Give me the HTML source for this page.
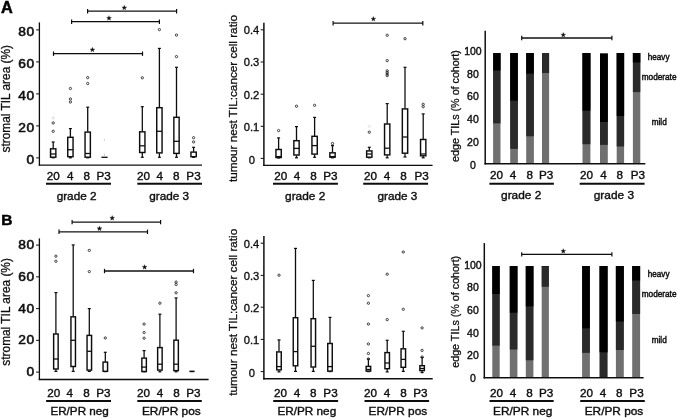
<!DOCTYPE html><html><head><meta charset="utf-8"><style>html,body{margin:0;padding:0;background:#fff}svg{display:block}</style></head><body>
<svg width="677" height="419" viewBox="0 0 677 419">
<rect width="677" height="419" fill="#fff"/>
<defs><filter id="bl" x="0" y="0" width="100%" height="100%" filterUnits="userSpaceOnUse"><feGaussianBlur stdDeviation="0.35"/></filter></defs>
<g font-family="Liberation Sans, sans-serif" filter="url(#bl)">
<text x="1.0" y="12.9" font-size="16.3" text-anchor="start" font-weight="bold" fill="#000" stroke="#000" stroke-width="0.5" >A</text>
<text x="1.2" y="224.6" font-size="15.5" text-anchor="start" font-weight="bold" fill="#000" stroke="#000" stroke-width="0.5" >B</text>
<line x1="39.4" y1="22.4" x2="39.4" y2="165.7" stroke="#111" stroke-width="1.3"/>
<line x1="38.8" y1="165.05" x2="202" y2="165.05" stroke="#111" stroke-width="1.35"/>
<text transform="translate(34.8,36.0) scale(1.13,1)" font-size="12.2" text-anchor="end" fill="#111" letter-spacing="0.55" stroke="#111" stroke-width="0.55">80</text>
<line x1="36.1" y1="29.900000000000002" x2="39.4" y2="29.900000000000002" stroke="#111" stroke-width="1.0"/>
<text transform="translate(34.8,68.0) scale(1.13,1)" font-size="12.2" text-anchor="end" fill="#111" letter-spacing="0.55" stroke="#111" stroke-width="0.55">60</text>
<line x1="36.1" y1="61.9" x2="39.4" y2="61.9" stroke="#111" stroke-width="1.0"/>
<text transform="translate(34.8,100.0) scale(1.13,1)" font-size="12.2" text-anchor="end" fill="#111" letter-spacing="0.55" stroke="#111" stroke-width="0.55">40</text>
<line x1="36.1" y1="93.89999999999999" x2="39.4" y2="93.89999999999999" stroke="#111" stroke-width="1.0"/>
<text transform="translate(34.8,132.0) scale(1.13,1)" font-size="12.2" text-anchor="end" fill="#111" letter-spacing="0.55" stroke="#111" stroke-width="0.55">20</text>
<line x1="36.1" y1="125.89999999999999" x2="39.4" y2="125.89999999999999" stroke="#111" stroke-width="1.0"/>
<text transform="translate(34.8,164.0) scale(1.13,1)" font-size="12.2" text-anchor="end" fill="#111" letter-spacing="0.55" stroke="#111" stroke-width="0.55">0</text>
<line x1="36.1" y1="157.9" x2="39.4" y2="157.9" stroke="#111" stroke-width="1.0"/>
<text transform="translate(9.9,98.75) rotate(-90)" font-size="12" text-anchor="middle" fill="#111" stroke="#111" stroke-width="0.3" textLength="107.5" lengthAdjust="spacingAndGlyphs">stromal TIL area (%)</text>
<line x1="53.2" y1="142.0" x2="53.2" y2="148.5" stroke="#111" stroke-width="1.3"/>
<line x1="53.2" y1="157.5" x2="53.2" y2="157.8" stroke="#111" stroke-width="1.3"/>
<line x1="51.7" y1="142.0" x2="54.7" y2="142.0" stroke="#111" stroke-width="1.2"/>
<line x1="51.7" y1="157.8" x2="54.7" y2="157.8" stroke="#111" stroke-width="1.2"/>
<rect x="50.55" y="148.80" width="5.30" height="8.40" fill="#fff" stroke="#111" stroke-width="1.45"/>
<line x1="50.550000000000004" y1="154" x2="55.85" y2="154" stroke="#111" stroke-width="1.3"/>
<circle cx="53.2" cy="131.3" r="1.15" fill="none" stroke="#222" stroke-width="0.85" opacity="1"/>
<circle cx="53.2" cy="123" r="1.15" fill="none" stroke="#222" stroke-width="0.85" opacity="1"/>
<circle cx="53.2" cy="118" r="1.15" fill="none" stroke="#222" stroke-width="0.85" opacity="0.15"/>
<line x1="70.4" y1="128.6" x2="70.4" y2="137" stroke="#111" stroke-width="1.3"/>
<line x1="70.4" y1="157" x2="70.4" y2="157.8" stroke="#111" stroke-width="1.3"/>
<line x1="68.9" y1="128.6" x2="71.9" y2="128.6" stroke="#111" stroke-width="1.2"/>
<line x1="68.9" y1="157.8" x2="71.9" y2="157.8" stroke="#111" stroke-width="1.2"/>
<rect x="67.75" y="137.30" width="5.30" height="19.40" fill="#fff" stroke="#111" stroke-width="1.45"/>
<line x1="67.75" y1="149.7" x2="73.05000000000001" y2="149.7" stroke="#111" stroke-width="1.3"/>
<circle cx="70.4" cy="102" r="1.15" fill="none" stroke="#222" stroke-width="0.85" opacity="1"/>
<circle cx="70.4" cy="99" r="1.15" fill="none" stroke="#222" stroke-width="0.85" opacity="1"/>
<circle cx="70.4" cy="88.5" r="1.15" fill="none" stroke="#222" stroke-width="0.85" opacity="1"/>
<line x1="87.7" y1="107.2" x2="87.7" y2="131.8" stroke="#111" stroke-width="1.3"/>
<line x1="87.7" y1="157.5" x2="87.7" y2="157.8" stroke="#111" stroke-width="1.3"/>
<line x1="86.2" y1="107.2" x2="89.2" y2="107.2" stroke="#111" stroke-width="1.2"/>
<line x1="86.2" y1="157.8" x2="89.2" y2="157.8" stroke="#111" stroke-width="1.2"/>
<rect x="85.05" y="132.10" width="5.30" height="25.10" fill="#fff" stroke="#111" stroke-width="1.45"/>
<line x1="85.05" y1="153.5" x2="90.35000000000001" y2="153.5" stroke="#111" stroke-width="1.3"/>
<circle cx="87.7" cy="83.5" r="1.15" fill="none" stroke="#222" stroke-width="0.85" opacity="1"/>
<circle cx="87.7" cy="77.6" r="1.15" fill="none" stroke="#222" stroke-width="0.85" opacity="1"/>
<line x1="101.4" y1="157.3" x2="107.6" y2="157.3" stroke="#111" stroke-width="1.3"/>
<line x1="104.4" y1="153.5" x2="104.4" y2="157" stroke="#bbb" stroke-width="0.8"/>
<line x1="104.4" y1="138.5" x2="104.4" y2="141" stroke="#ccc" stroke-width="0.8"/>
<line x1="142.3" y1="106.7" x2="142.3" y2="131.5" stroke="#111" stroke-width="1.3"/>
<line x1="142.3" y1="152.8" x2="142.3" y2="157.3" stroke="#111" stroke-width="1.3"/>
<line x1="140.8" y1="106.7" x2="143.8" y2="106.7" stroke="#111" stroke-width="1.2"/>
<line x1="140.8" y1="157.3" x2="143.8" y2="157.3" stroke="#111" stroke-width="1.2"/>
<rect x="139.65" y="131.80" width="5.30" height="20.70" fill="#fff" stroke="#111" stroke-width="1.45"/>
<line x1="139.65" y1="145.8" x2="144.95000000000002" y2="145.8" stroke="#111" stroke-width="1.3"/>
<circle cx="142.3" cy="77.8" r="1.15" fill="none" stroke="#222" stroke-width="0.85" opacity="1"/>
<line x1="159.4" y1="48.4" x2="159.4" y2="107.4" stroke="#111" stroke-width="1.3"/>
<line x1="159.4" y1="153.2" x2="159.4" y2="157.3" stroke="#111" stroke-width="1.3"/>
<line x1="157.9" y1="48.4" x2="160.9" y2="48.4" stroke="#111" stroke-width="1.2"/>
<line x1="157.9" y1="157.3" x2="160.9" y2="157.3" stroke="#111" stroke-width="1.2"/>
<rect x="156.75" y="107.70" width="5.30" height="45.20" fill="#fff" stroke="#111" stroke-width="1.45"/>
<line x1="156.75" y1="131.3" x2="162.05" y2="131.3" stroke="#111" stroke-width="1.3"/>
<circle cx="159.4" cy="29.6" r="1.15" fill="none" stroke="#222" stroke-width="0.85" opacity="1"/>
<line x1="176.5" y1="67.3" x2="176.5" y2="117" stroke="#111" stroke-width="1.3"/>
<line x1="176.5" y1="153.7" x2="176.5" y2="157.3" stroke="#111" stroke-width="1.3"/>
<line x1="175.0" y1="67.3" x2="178.0" y2="67.3" stroke="#111" stroke-width="1.2"/>
<line x1="175.0" y1="157.3" x2="178.0" y2="157.3" stroke="#111" stroke-width="1.2"/>
<rect x="173.85" y="117.30" width="5.30" height="36.10" fill="#fff" stroke="#111" stroke-width="1.45"/>
<line x1="173.85" y1="141.3" x2="179.15" y2="141.3" stroke="#111" stroke-width="1.3"/>
<circle cx="176.5" cy="35.1" r="1.15" fill="none" stroke="#222" stroke-width="0.85" opacity="1"/>
<circle cx="176.5" cy="56.6" r="1.15" fill="none" stroke="#222" stroke-width="0.85" opacity="1"/>
<line x1="193.6" y1="147.3" x2="193.6" y2="151.8" stroke="#111" stroke-width="1.3"/>
<line x1="193.6" y1="157" x2="193.6" y2="157.3" stroke="#111" stroke-width="1.3"/>
<line x1="192.1" y1="147.3" x2="195.1" y2="147.3" stroke="#111" stroke-width="1.2"/>
<line x1="192.1" y1="157.3" x2="195.1" y2="157.3" stroke="#111" stroke-width="1.2"/>
<rect x="190.95" y="152.10" width="5.30" height="4.60" fill="#fff" stroke="#111" stroke-width="1.45"/>
<circle cx="193.6" cy="137.7" r="1.15" fill="none" stroke="#222" stroke-width="0.85" opacity="1"/>
<circle cx="193.6" cy="141.9" r="1.15" fill="none" stroke="#222" stroke-width="0.85" opacity="1"/>
<line x1="87.6" y1="11.2" x2="176.6" y2="11.2" stroke="#111" stroke-width="1.3"/>
<line x1="87.6" y1="9.0" x2="87.6" y2="13.399999999999999" stroke="#111" stroke-width="1.2"/>
<line x1="176.6" y1="9.0" x2="176.6" y2="13.399999999999999" stroke="#111" stroke-width="1.2"/>
<polygon points="124.30,5.25 124.92,6.95 126.73,7.01 125.30,8.12 125.80,9.86 124.30,8.85 122.80,9.86 123.30,8.12 121.87,7.01 123.68,6.95" fill="#111" stroke="#111" stroke-width="0.3"/>
<line x1="71.6" y1="21.7" x2="159.4" y2="21.7" stroke="#111" stroke-width="1.3"/>
<line x1="71.6" y1="19.5" x2="71.6" y2="23.9" stroke="#111" stroke-width="1.2"/>
<line x1="159.4" y1="19.5" x2="159.4" y2="23.9" stroke="#111" stroke-width="1.2"/>
<polygon points="109.00,15.65 109.62,17.35 111.43,17.41 110.00,18.52 110.50,20.26 109.00,19.25 107.50,20.26 108.00,18.52 106.57,17.41 108.38,17.35" fill="#111" stroke="#111" stroke-width="0.3"/>
<line x1="53.5" y1="53.7" x2="142.5" y2="53.7" stroke="#111" stroke-width="1.3"/>
<line x1="53.5" y1="51.5" x2="53.5" y2="55.900000000000006" stroke="#111" stroke-width="1.2"/>
<line x1="142.5" y1="51.5" x2="142.5" y2="55.900000000000006" stroke="#111" stroke-width="1.2"/>
<polygon points="92.40,47.25 93.02,48.95 94.83,49.01 93.40,50.12 93.90,51.86 92.40,50.85 90.90,51.86 91.40,50.12 89.97,49.01 91.78,48.95" fill="#111" stroke="#111" stroke-width="0.3"/>
<text x="53.3" y="179.8" font-size="11.7" text-anchor="middle" font-weight="normal" fill="#111" stroke="#111" stroke-width="0.4" >20</text>
<text x="70.2" y="179.8" font-size="11.7" text-anchor="middle" font-weight="normal" fill="#111" stroke="#111" stroke-width="0.4" >4</text>
<text x="86.7" y="179.8" font-size="11.7" text-anchor="middle" font-weight="normal" fill="#111" stroke="#111" stroke-width="0.4" >8</text>
<text x="103.60000000000001" y="179.8" font-size="11.7" text-anchor="middle" font-weight="normal" fill="#111" stroke="#111" stroke-width="0.4" >P3</text>
<line x1="46" y1="183.8" x2="111" y2="183.8" stroke="#111" stroke-width="2.0"/>
<text x="76.6" y="199.5" font-size="11.5" text-anchor="middle" font-weight="normal" fill="#111" stroke="#111" stroke-width="0.4" textLength="39.8" lengthAdjust="spacingAndGlyphs" >grade 2</text>
<text x="143.4" y="179.8" font-size="11.7" text-anchor="middle" font-weight="normal" fill="#111" stroke="#111" stroke-width="0.4" >20</text>
<text x="159.70000000000002" y="179.8" font-size="11.7" text-anchor="middle" font-weight="normal" fill="#111" stroke="#111" stroke-width="0.4" >4</text>
<text x="176.20000000000002" y="179.8" font-size="11.7" text-anchor="middle" font-weight="normal" fill="#111" stroke="#111" stroke-width="0.4" >8</text>
<text x="193.5" y="179.8" font-size="11.7" text-anchor="middle" font-weight="normal" fill="#111" stroke="#111" stroke-width="0.4" >P3</text>
<line x1="137.3" y1="183.8" x2="202" y2="183.8" stroke="#111" stroke-width="2.0"/>
<text x="169.2" y="199.5" font-size="11.5" text-anchor="middle" font-weight="normal" fill="#111" stroke="#111" stroke-width="0.4" textLength="39.8" lengthAdjust="spacingAndGlyphs" >grade 3</text>
<line x1="263.9" y1="22.7" x2="263.9" y2="166.0" stroke="#111" stroke-width="1.5"/>
<line x1="263.2" y1="165.35" x2="432.6" y2="165.35" stroke="#111" stroke-width="1.3"/>
<text x="259.29999999999995" y="34.2" font-size="11.2" text-anchor="end" font-weight="normal" fill="#111" stroke="#111" stroke-width="0.35" >0.4</text>
<line x1="260.7" y1="29.8" x2="263.9" y2="29.8" stroke="#111" stroke-width="1.0"/>
<text x="259.29999999999995" y="66.4" font-size="11.2" text-anchor="end" font-weight="normal" fill="#111" stroke="#111" stroke-width="0.35" >0.3</text>
<line x1="260.7" y1="62" x2="263.9" y2="62" stroke="#111" stroke-width="1.0"/>
<text x="259.29999999999995" y="98.60000000000001" font-size="11.2" text-anchor="end" font-weight="normal" fill="#111" stroke="#111" stroke-width="0.35" >0.2</text>
<line x1="260.7" y1="94.2" x2="263.9" y2="94.2" stroke="#111" stroke-width="1.0"/>
<text x="259.29999999999995" y="130.7" font-size="11.2" text-anchor="end" font-weight="normal" fill="#111" stroke="#111" stroke-width="0.35" >0.1</text>
<line x1="260.7" y1="126.3" x2="263.9" y2="126.3" stroke="#111" stroke-width="1.0"/>
<text x="254.89999999999995" y="163.8" font-size="11.2" text-anchor="end" font-weight="normal" fill="#111" stroke="#111" stroke-width="0.35" >0</text>
<line x1="260.7" y1="158.4" x2="263.9" y2="158.4" stroke="#111" stroke-width="1.0"/>
<text transform="translate(237.0,98.5) rotate(-90)" font-size="11.5" text-anchor="middle" fill="#111" stroke="#111" stroke-width="0.3" textLength="167" lengthAdjust="spacingAndGlyphs">tumour nest TIL:cancer cell ratio</text>
<line x1="278.6" y1="137.9" x2="278.6" y2="149.2" stroke="#111" stroke-width="1.3"/>
<line x1="278.6" y1="157.8" x2="278.6" y2="158" stroke="#111" stroke-width="1.3"/>
<line x1="277.1" y1="137.9" x2="280.1" y2="137.9" stroke="#111" stroke-width="1.2"/>
<line x1="277.1" y1="158" x2="280.1" y2="158" stroke="#111" stroke-width="1.2"/>
<rect x="275.95" y="149.50" width="5.30" height="8.00" fill="#fff" stroke="#111" stroke-width="1.45"/>
<line x1="275.95000000000005" y1="156.6" x2="281.25" y2="156.6" stroke="#111" stroke-width="1.3"/>
<circle cx="278.6" cy="130.6" r="1.15" fill="none" stroke="#222" stroke-width="0.85" opacity="1"/>
<line x1="296.5" y1="126.6" x2="296.5" y2="140.4" stroke="#111" stroke-width="1.3"/>
<line x1="296.5" y1="155.3" x2="296.5" y2="157.8" stroke="#111" stroke-width="1.3"/>
<line x1="295.0" y1="126.6" x2="298.0" y2="126.6" stroke="#111" stroke-width="1.2"/>
<line x1="295.0" y1="157.8" x2="298.0" y2="157.8" stroke="#111" stroke-width="1.2"/>
<rect x="293.85" y="140.70" width="5.30" height="14.30" fill="#fff" stroke="#111" stroke-width="1.45"/>
<line x1="293.85" y1="148.4" x2="299.15" y2="148.4" stroke="#111" stroke-width="1.3"/>
<circle cx="296.5" cy="106.2" r="1.15" fill="none" stroke="#222" stroke-width="0.85" opacity="1"/>
<line x1="314.6" y1="117.4" x2="314.6" y2="136.0" stroke="#111" stroke-width="1.3"/>
<line x1="314.6" y1="154.4" x2="314.6" y2="157.3" stroke="#111" stroke-width="1.3"/>
<line x1="313.1" y1="117.4" x2="316.1" y2="117.4" stroke="#111" stroke-width="1.2"/>
<line x1="313.1" y1="157.3" x2="316.1" y2="157.3" stroke="#111" stroke-width="1.2"/>
<rect x="311.95" y="136.30" width="5.30" height="17.80" fill="#fff" stroke="#111" stroke-width="1.45"/>
<line x1="311.95000000000005" y1="145.6" x2="317.25" y2="145.6" stroke="#111" stroke-width="1.3"/>
<circle cx="314.6" cy="105.3" r="1.15" fill="none" stroke="#222" stroke-width="0.85" opacity="1"/>
<line x1="332.5" y1="145.6" x2="332.5" y2="152.5" stroke="#111" stroke-width="1.3"/>
<line x1="332.5" y1="157.5" x2="332.5" y2="157.8" stroke="#111" stroke-width="1.3"/>
<line x1="331.0" y1="145.6" x2="334.0" y2="145.6" stroke="#111" stroke-width="1.2"/>
<line x1="331.0" y1="157.8" x2="334.0" y2="157.8" stroke="#111" stroke-width="1.2"/>
<rect x="329.85" y="152.80" width="5.30" height="4.40" fill="#fff" stroke="#111" stroke-width="1.45"/>
<line x1="329.85" y1="156.6" x2="335.15" y2="156.6" stroke="#111" stroke-width="1.3"/>
<circle cx="332.5" cy="143.5" r="1.15" fill="none" stroke="#222" stroke-width="0.85" opacity="1"/>
<line x1="369.3" y1="147.3" x2="369.3" y2="150.6" stroke="#111" stroke-width="1.3"/>
<line x1="369.3" y1="157.5" x2="369.3" y2="157.8" stroke="#111" stroke-width="1.3"/>
<line x1="367.8" y1="147.3" x2="370.8" y2="147.3" stroke="#111" stroke-width="1.2"/>
<line x1="367.8" y1="157.8" x2="370.8" y2="157.8" stroke="#111" stroke-width="1.2"/>
<rect x="366.65" y="150.90" width="5.30" height="6.30" fill="#fff" stroke="#111" stroke-width="1.45"/>
<line x1="366.65000000000003" y1="154" x2="371.95" y2="154" stroke="#111" stroke-width="1.3"/>
<circle cx="369.3" cy="132.2" r="1.15" fill="none" stroke="#222" stroke-width="0.85" opacity="1"/>
<circle cx="369.3" cy="126.3" r="1.15" fill="none" stroke="#222" stroke-width="0.85" opacity="0.12"/>
<line x1="387.2" y1="103.6" x2="387.2" y2="123.7" stroke="#111" stroke-width="1.3"/>
<line x1="387.2" y1="155.2" x2="387.2" y2="157.8" stroke="#111" stroke-width="1.3"/>
<line x1="385.7" y1="103.6" x2="388.7" y2="103.6" stroke="#111" stroke-width="1.2"/>
<line x1="385.7" y1="157.8" x2="388.7" y2="157.8" stroke="#111" stroke-width="1.2"/>
<rect x="384.55" y="124.00" width="5.30" height="30.90" fill="#fff" stroke="#111" stroke-width="1.45"/>
<line x1="384.55" y1="148.2" x2="389.84999999999997" y2="148.2" stroke="#111" stroke-width="1.3"/>
<circle cx="387.2" cy="35.3" r="1.15" fill="none" stroke="#222" stroke-width="0.85" opacity="1"/>
<circle cx="387.2" cy="60.6" r="1.15" fill="none" stroke="#222" stroke-width="0.85" opacity="1"/>
<circle cx="387.2" cy="70.8" r="1.15" fill="none" stroke="#222" stroke-width="0.85" opacity="1"/>
<circle cx="387.2" cy="72.5" r="1.15" fill="none" stroke="#222" stroke-width="0.85" opacity="1"/>
<circle cx="387.2" cy="74.1" r="1.15" fill="none" stroke="#222" stroke-width="0.85" opacity="1"/>
<circle cx="387.2" cy="75.6" r="1.15" fill="none" stroke="#222" stroke-width="0.85" opacity="1"/>
<line x1="405" y1="67.3" x2="405" y2="108.6" stroke="#111" stroke-width="1.3"/>
<line x1="405" y1="153.5" x2="405" y2="157" stroke="#111" stroke-width="1.3"/>
<line x1="403.5" y1="67.3" x2="406.5" y2="67.3" stroke="#111" stroke-width="1.2"/>
<line x1="403.5" y1="157" x2="406.5" y2="157" stroke="#111" stroke-width="1.2"/>
<rect x="402.35" y="108.90" width="5.30" height="44.30" fill="#fff" stroke="#111" stroke-width="1.45"/>
<line x1="402.35" y1="137" x2="407.65" y2="137" stroke="#111" stroke-width="1.3"/>
<circle cx="405" cy="38.7" r="1.15" fill="none" stroke="#222" stroke-width="0.85" opacity="1"/>
<line x1="423.2" y1="113.9" x2="423.2" y2="139.2" stroke="#111" stroke-width="1.3"/>
<line x1="423.2" y1="156.1" x2="423.2" y2="157.8" stroke="#111" stroke-width="1.3"/>
<line x1="421.7" y1="113.9" x2="424.7" y2="113.9" stroke="#111" stroke-width="1.2"/>
<line x1="421.7" y1="157.8" x2="424.7" y2="157.8" stroke="#111" stroke-width="1.2"/>
<rect x="420.55" y="139.50" width="5.30" height="16.30" fill="#fff" stroke="#111" stroke-width="1.45"/>
<line x1="420.55" y1="154" x2="425.84999999999997" y2="154" stroke="#111" stroke-width="1.3"/>
<circle cx="423.2" cy="104.3" r="1.15" fill="none" stroke="#222" stroke-width="0.85" opacity="1"/>
<circle cx="423.2" cy="106.7" r="1.15" fill="none" stroke="#222" stroke-width="0.85" opacity="1"/>
<line x1="333.1" y1="23.2" x2="422.8" y2="23.2" stroke="#111" stroke-width="1.3"/>
<line x1="333.1" y1="21.0" x2="333.1" y2="25.4" stroke="#111" stroke-width="1.2"/>
<line x1="422.8" y1="21.0" x2="422.8" y2="25.4" stroke="#111" stroke-width="1.2"/>
<polygon points="373.40,16.45 374.02,18.15 375.83,18.21 374.40,19.32 374.90,21.06 373.40,20.05 371.90,21.06 372.40,19.32 370.97,18.21 372.78,18.15" fill="#111" stroke="#111" stroke-width="0.3"/>
<text x="280.7" y="179.8" font-size="11.7" text-anchor="middle" font-weight="normal" fill="#111" stroke="#111" stroke-width="0.4" >20</text>
<text x="296.9" y="179.8" font-size="11.7" text-anchor="middle" font-weight="normal" fill="#111" stroke="#111" stroke-width="0.4" >4</text>
<text x="313.5" y="179.8" font-size="11.7" text-anchor="middle" font-weight="normal" fill="#111" stroke="#111" stroke-width="0.4" >8</text>
<text x="330.29999999999995" y="179.8" font-size="11.7" text-anchor="middle" font-weight="normal" fill="#111" stroke="#111" stroke-width="0.4" >P3</text>
<line x1="273" y1="183.8" x2="337.9" y2="183.8" stroke="#111" stroke-width="2.0"/>
<text x="305.2" y="199.5" font-size="11.5" text-anchor="middle" font-weight="normal" fill="#111" stroke="#111" stroke-width="0.4" textLength="40.3" lengthAdjust="spacingAndGlyphs" >grade 2</text>
<text x="370.5" y="179.8" font-size="11.7" text-anchor="middle" font-weight="normal" fill="#111" stroke="#111" stroke-width="0.4" >20</text>
<text x="386.9" y="179.8" font-size="11.7" text-anchor="middle" font-weight="normal" fill="#111" stroke="#111" stroke-width="0.4" >4</text>
<text x="403.5" y="179.8" font-size="11.7" text-anchor="middle" font-weight="normal" fill="#111" stroke="#111" stroke-width="0.4" >8</text>
<text x="421.7" y="179.8" font-size="11.7" text-anchor="middle" font-weight="normal" fill="#111" stroke="#111" stroke-width="0.4" >P3</text>
<line x1="363.2" y1="183.8" x2="428.1" y2="183.8" stroke="#111" stroke-width="2.0"/>
<text x="397.4" y="199.5" font-size="11.5" text-anchor="middle" font-weight="normal" fill="#111" stroke="#111" stroke-width="0.4" textLength="39.8" lengthAdjust="spacingAndGlyphs" >grade 3</text>
<rect x="493.1" y="53.0" width="7.40" height="110.70" fill="#707070"/>
<rect x="493.1" y="53.0" width="7.40" height="70.40" fill="#2b2b2b"/>
<rect x="493.1" y="53.0" width="7.40" height="17.60" fill="#060606"/>
<rect x="510.2" y="53.0" width="7.70" height="110.70" fill="#707070"/>
<rect x="510.2" y="53.0" width="7.70" height="95.90" fill="#2b2b2b"/>
<rect x="510.2" y="53.0" width="7.70" height="47.70" fill="#060606"/>
<rect x="526.2" y="53.0" width="7.70" height="110.70" fill="#707070"/>
<rect x="526.2" y="53.0" width="7.70" height="83.30" fill="#2b2b2b"/>
<rect x="526.2" y="53.0" width="7.70" height="20.70" fill="#060606"/>
<rect x="542" y="53.0" width="7.10" height="110.70" fill="#707070"/>
<rect x="542" y="53.0" width="7.10" height="20.00" fill="#2b2b2b"/>
<rect x="582.5" y="53.0" width="7.90" height="110.70" fill="#707070"/>
<rect x="582.5" y="53.0" width="7.90" height="91.20" fill="#2b2b2b"/>
<rect x="582.5" y="53.0" width="7.90" height="57.70" fill="#060606"/>
<rect x="600" y="53.6" width="7.80" height="110.10" fill="#707070"/>
<rect x="600" y="53.6" width="7.80" height="91.30" fill="#2b2b2b"/>
<rect x="600" y="53.6" width="7.80" height="68.40" fill="#060606"/>
<rect x="616.7" y="53.0" width="7.40" height="110.70" fill="#707070"/>
<rect x="616.7" y="53.0" width="7.40" height="93.50" fill="#2b2b2b"/>
<rect x="616.7" y="53.0" width="7.40" height="63.00" fill="#060606"/>
<rect x="632.9" y="53.0" width="7.40" height="110.70" fill="#707070"/>
<rect x="632.9" y="53.0" width="7.40" height="39.10" fill="#2b2b2b"/>
<rect x="632.9" y="53.0" width="7.40" height="9.50" fill="#060606"/>
<line x1="485.2" y1="30.7" x2="485.2" y2="164.39999999999998" stroke="#111" stroke-width="1.5"/>
<line x1="484.5" y1="163.7" x2="645.3" y2="163.7" stroke="#111" stroke-width="1.5"/>
<text x="472.9" y="54.8" font-size="10.5" text-anchor="middle" fill="#111" stroke="#111" stroke-width="0.4">100</text>
<text x="472.9" y="78.1" font-size="10.5" text-anchor="middle" fill="#111" stroke="#111" stroke-width="0.4">80</text>
<text x="472.9" y="100.2" font-size="10.5" text-anchor="middle" fill="#111" stroke="#111" stroke-width="0.4">60</text>
<text x="472.9" y="122.89999999999999" font-size="10.5" text-anchor="middle" fill="#111" stroke="#111" stroke-width="0.4">40</text>
<text x="472.9" y="145.60000000000002" font-size="10.5" text-anchor="middle" fill="#111" stroke="#111" stroke-width="0.4">20</text>
<text x="472.9" y="168.70000000000002" font-size="10.5" text-anchor="middle" fill="#111" stroke="#111" stroke-width="0.4">0</text>
<text transform="translate(459.4,106.0) rotate(-90)" font-size="11.5" text-anchor="middle" fill="#111" stroke="#111" stroke-width="0.3" textLength="111.8" lengthAdjust="spacingAndGlyphs">edge TILs (% of cohort)</text>
<line x1="521.7" y1="38" x2="611.9" y2="38" stroke="#111" stroke-width="1.3"/>
<line x1="521.7" y1="35.8" x2="521.7" y2="40.2" stroke="#111" stroke-width="1.2"/>
<line x1="611.9" y1="35.8" x2="611.9" y2="40.2" stroke="#111" stroke-width="1.2"/>
<polygon points="563.30,32.45 563.92,34.15 565.73,34.21 564.30,35.32 564.80,37.06 563.30,36.05 561.80,37.06 562.30,35.32 560.87,34.21 562.68,34.15" fill="#111" stroke="#111" stroke-width="0.3"/>
<text x="496.59999999999997" y="179.0" font-size="11.7" text-anchor="middle" font-weight="normal" fill="#111" stroke="#111" stroke-width="0.4" >20</text>
<text x="513.0" y="179.0" font-size="11.7" text-anchor="middle" font-weight="normal" fill="#111" stroke="#111" stroke-width="0.4" >4</text>
<text x="529.6999999999999" y="179.0" font-size="11.7" text-anchor="middle" font-weight="normal" fill="#111" stroke="#111" stroke-width="0.4" >8</text>
<text x="546.1999999999999" y="179.0" font-size="11.7" text-anchor="middle" font-weight="normal" fill="#111" stroke="#111" stroke-width="0.4" >P3</text>
<line x1="489.4" y1="183.8" x2="553.9" y2="183.8" stroke="#111" stroke-width="2.0"/>
<text x="521.2" y="198.7" font-size="11.5" text-anchor="middle" font-weight="normal" fill="#111" stroke="#111" stroke-width="0.4" textLength="40.3" lengthAdjust="spacingAndGlyphs" >grade 2</text>
<text x="586.6" y="179.0" font-size="11.7" text-anchor="middle" font-weight="normal" fill="#111" stroke="#111" stroke-width="0.4" >20</text>
<text x="603.4" y="179.0" font-size="11.7" text-anchor="middle" font-weight="normal" fill="#111" stroke="#111" stroke-width="0.4" >4</text>
<text x="619.8" y="179.0" font-size="11.7" text-anchor="middle" font-weight="normal" fill="#111" stroke="#111" stroke-width="0.4" >8</text>
<text x="637.8" y="179.0" font-size="11.7" text-anchor="middle" font-weight="normal" fill="#111" stroke="#111" stroke-width="0.4" >P3</text>
<line x1="579.7" y1="183.8" x2="644.6" y2="183.8" stroke="#111" stroke-width="2.0"/>
<text x="613.9" y="198.7" font-size="11.5" text-anchor="middle" font-weight="normal" fill="#111" stroke="#111" stroke-width="0.4" textLength="40.3" lengthAdjust="spacingAndGlyphs" >grade 3</text>
<text x="647.7" y="60.3" font-size="8.4" text-anchor="start" font-weight="normal" fill="#111" stroke="#111" stroke-width="0.45" textLength="21.8" lengthAdjust="spacingAndGlyphs" >heavy</text>
<text x="641.7" y="80.0" font-size="8.4" text-anchor="start" font-weight="normal" fill="#111" stroke="#111" stroke-width="0.45" textLength="34.8" lengthAdjust="spacingAndGlyphs" >moderate</text>
<text x="651.7" y="125.0" font-size="8.4" text-anchor="start" font-weight="normal" fill="#111" stroke="#111" stroke-width="0.45" textLength="15.0" lengthAdjust="spacingAndGlyphs" >mild</text>
<line x1="39.4" y1="238.4" x2="39.4" y2="380.1" stroke="#111" stroke-width="1.3"/>
<line x1="38.8" y1="379.5" x2="208.6" y2="379.5" stroke="#111" stroke-width="1.3"/>
<text transform="translate(34.8,249.1) scale(1.13,1)" font-size="12.2" text-anchor="end" fill="#111" letter-spacing="0.55" stroke="#111" stroke-width="0.55">80</text>
<line x1="36.1" y1="245.1" x2="39.4" y2="245.1" stroke="#111" stroke-width="1.0"/>
<text transform="translate(34.8,280.85) scale(1.13,1)" font-size="12.2" text-anchor="end" fill="#111" letter-spacing="0.55" stroke="#111" stroke-width="0.55">60</text>
<line x1="36.1" y1="276.85" x2="39.4" y2="276.85" stroke="#111" stroke-width="1.0"/>
<text transform="translate(34.8,312.6) scale(1.13,1)" font-size="12.2" text-anchor="end" fill="#111" letter-spacing="0.55" stroke="#111" stroke-width="0.55">40</text>
<line x1="36.1" y1="308.6" x2="39.4" y2="308.6" stroke="#111" stroke-width="1.0"/>
<text transform="translate(34.8,344.35) scale(1.13,1)" font-size="12.2" text-anchor="end" fill="#111" letter-spacing="0.55" stroke="#111" stroke-width="0.55">20</text>
<line x1="36.1" y1="340.35" x2="39.4" y2="340.35" stroke="#111" stroke-width="1.0"/>
<text transform="translate(34.8,376.1) scale(1.13,1)" font-size="12.2" text-anchor="end" fill="#111" letter-spacing="0.55" stroke="#111" stroke-width="0.55">0</text>
<line x1="36.1" y1="372.1" x2="39.4" y2="372.1" stroke="#111" stroke-width="1.0"/>
<text transform="translate(9.9,311.9) rotate(-90)" font-size="12" text-anchor="middle" fill="#111" stroke="#111" stroke-width="0.3" textLength="107.5" lengthAdjust="spacingAndGlyphs">stromal TIL area (%)</text>
<line x1="55.9" y1="292.6" x2="55.9" y2="333.7" stroke="#111" stroke-width="1.3"/>
<line x1="55.9" y1="369.3" x2="55.9" y2="371.4" stroke="#111" stroke-width="1.3"/>
<line x1="54.4" y1="292.6" x2="57.4" y2="292.6" stroke="#111" stroke-width="1.2"/>
<line x1="54.4" y1="371.4" x2="57.4" y2="371.4" stroke="#111" stroke-width="1.2"/>
<rect x="53.65" y="334.00" width="4.50" height="35.00" fill="#fff" stroke="#111" stroke-width="1.45"/>
<line x1="53.65" y1="359" x2="58.15" y2="359" stroke="#111" stroke-width="1.3"/>
<circle cx="55.9" cy="256.2" r="1.15" fill="none" stroke="#222" stroke-width="0.85" opacity="1"/>
<circle cx="55.9" cy="261.3" r="1.15" fill="none" stroke="#222" stroke-width="0.85" opacity="1"/>
<line x1="73.2" y1="244.9" x2="73.2" y2="316.5" stroke="#111" stroke-width="1.3"/>
<line x1="73.2" y1="366.8" x2="73.2" y2="371.4" stroke="#111" stroke-width="1.3"/>
<line x1="71.7" y1="244.9" x2="74.7" y2="244.9" stroke="#111" stroke-width="1.2"/>
<line x1="71.7" y1="371.4" x2="74.7" y2="371.4" stroke="#111" stroke-width="1.2"/>
<rect x="70.95" y="316.80" width="4.50" height="49.70" fill="#fff" stroke="#111" stroke-width="1.45"/>
<line x1="70.95" y1="340.3" x2="75.45" y2="340.3" stroke="#111" stroke-width="1.3"/>
<line x1="89.3" y1="308.6" x2="89.3" y2="335.1" stroke="#111" stroke-width="1.3"/>
<line x1="89.3" y1="370.4" x2="89.3" y2="371.4" stroke="#111" stroke-width="1.3"/>
<line x1="87.8" y1="308.6" x2="90.8" y2="308.6" stroke="#111" stroke-width="1.2"/>
<line x1="87.8" y1="371.4" x2="90.8" y2="371.4" stroke="#111" stroke-width="1.2"/>
<rect x="87.05" y="335.40" width="4.50" height="34.70" fill="#fff" stroke="#111" stroke-width="1.45"/>
<line x1="87.05" y1="351.3" x2="91.55" y2="351.3" stroke="#111" stroke-width="1.3"/>
<circle cx="89.3" cy="250.4" r="1.15" fill="none" stroke="#222" stroke-width="0.85" opacity="1"/>
<circle cx="89.3" cy="271.6" r="1.15" fill="none" stroke="#222" stroke-width="0.85" opacity="1"/>
<line x1="105.3" y1="352.3" x2="105.3" y2="361.8" stroke="#111" stroke-width="1.3"/>
<line x1="105.3" y1="371.6" x2="105.3" y2="371.6" stroke="#111" stroke-width="1.3"/>
<line x1="103.8" y1="352.3" x2="106.8" y2="352.3" stroke="#111" stroke-width="1.2"/>
<line x1="103.8" y1="371.6" x2="106.8" y2="371.6" stroke="#111" stroke-width="1.2"/>
<rect x="103.05" y="362.10" width="4.50" height="9.20" fill="#fff" stroke="#111" stroke-width="1.45"/>
<circle cx="105.3" cy="338" r="1.15" fill="none" stroke="#222" stroke-width="0.85" opacity="1"/>
<line x1="144.1" y1="350.6" x2="144.1" y2="357.8" stroke="#111" stroke-width="1.3"/>
<line x1="144.1" y1="371.8" x2="144.1" y2="371.8" stroke="#111" stroke-width="1.3"/>
<line x1="142.6" y1="350.6" x2="145.6" y2="350.6" stroke="#111" stroke-width="1.2"/>
<line x1="142.6" y1="371.8" x2="145.6" y2="371.8" stroke="#111" stroke-width="1.2"/>
<rect x="141.85" y="358.10" width="4.50" height="13.40" fill="#fff" stroke="#111" stroke-width="1.45"/>
<line x1="141.85" y1="367.1" x2="146.35" y2="367.1" stroke="#111" stroke-width="1.3"/>
<circle cx="144.1" cy="324.1" r="1.15" fill="none" stroke="#222" stroke-width="0.85" opacity="1"/>
<circle cx="144.1" cy="332.5" r="1.15" fill="none" stroke="#222" stroke-width="0.85" opacity="1"/>
<circle cx="144.1" cy="338.2" r="1.15" fill="none" stroke="#222" stroke-width="0.85" opacity="1"/>
<line x1="159.9" y1="314.2" x2="159.9" y2="347.3" stroke="#111" stroke-width="1.3"/>
<line x1="159.9" y1="370.4" x2="159.9" y2="371.8" stroke="#111" stroke-width="1.3"/>
<line x1="158.4" y1="314.2" x2="161.4" y2="314.2" stroke="#111" stroke-width="1.2"/>
<line x1="158.4" y1="371.8" x2="161.4" y2="371.8" stroke="#111" stroke-width="1.2"/>
<rect x="157.65" y="347.60" width="4.50" height="22.50" fill="#fff" stroke="#111" stroke-width="1.45"/>
<line x1="157.65" y1="364.2" x2="162.15" y2="364.2" stroke="#111" stroke-width="1.3"/>
<circle cx="159.9" cy="303.2" r="1.15" fill="none" stroke="#222" stroke-width="0.85" opacity="1"/>
<line x1="176.1" y1="297.9" x2="176.1" y2="339.9" stroke="#111" stroke-width="1.3"/>
<line x1="176.1" y1="370.9" x2="176.1" y2="371.8" stroke="#111" stroke-width="1.3"/>
<line x1="174.6" y1="297.9" x2="177.6" y2="297.9" stroke="#111" stroke-width="1.2"/>
<line x1="174.6" y1="371.8" x2="177.6" y2="371.8" stroke="#111" stroke-width="1.2"/>
<rect x="173.85" y="340.20" width="4.50" height="30.40" fill="#fff" stroke="#111" stroke-width="1.45"/>
<line x1="173.85" y1="364.2" x2="178.35" y2="364.2" stroke="#111" stroke-width="1.3"/>
<circle cx="176.1" cy="282.1" r="1.15" fill="none" stroke="#222" stroke-width="0.85" opacity="1"/>
<circle cx="176.1" cy="284.5" r="1.15" fill="none" stroke="#222" stroke-width="0.85" opacity="1"/>
<circle cx="176.1" cy="292.8" r="1.15" fill="none" stroke="#222" stroke-width="0.85" opacity="1"/>
<line x1="189.4" y1="371.4" x2="194.6" y2="371.4" stroke="#111" stroke-width="1.6"/>
<line x1="72.1" y1="222.1" x2="160.6" y2="222.1" stroke="#111" stroke-width="1.3"/>
<line x1="72.1" y1="219.9" x2="72.1" y2="224.29999999999998" stroke="#111" stroke-width="1.2"/>
<line x1="160.6" y1="219.9" x2="160.6" y2="224.29999999999998" stroke="#111" stroke-width="1.2"/>
<polygon points="112.20,215.55 112.82,217.25 114.63,217.31 113.20,218.42 113.70,220.16 112.20,219.15 110.70,220.16 111.20,218.42 109.77,217.31 111.58,217.25" fill="#111" stroke="#111" stroke-width="0.3"/>
<line x1="59" y1="231.8" x2="147.5" y2="231.8" stroke="#111" stroke-width="1.3"/>
<line x1="59" y1="229.60000000000002" x2="59" y2="234.0" stroke="#111" stroke-width="1.2"/>
<line x1="147.5" y1="229.60000000000002" x2="147.5" y2="234.0" stroke="#111" stroke-width="1.2"/>
<polygon points="99.50,226.05 100.12,227.75 101.93,227.81 100.50,228.92 101.00,230.66 99.50,229.65 98.00,230.66 98.50,228.92 97.07,227.81 98.88,227.75" fill="#111" stroke="#111" stroke-width="0.3"/>
<line x1="104.5" y1="271.0" x2="193.5" y2="271.0" stroke="#111" stroke-width="1.3"/>
<line x1="104.5" y1="268.8" x2="104.5" y2="273.2" stroke="#111" stroke-width="1.2"/>
<line x1="193.5" y1="268.8" x2="193.5" y2="273.2" stroke="#111" stroke-width="1.2"/>
<polygon points="144.60,264.65 145.22,266.35 147.03,266.41 145.60,267.52 146.10,269.26 144.60,268.25 143.10,269.26 143.60,267.52 142.17,266.41 143.98,266.35" fill="#111" stroke="#111" stroke-width="0.3"/>
<text x="53.699999999999996" y="396.5" font-size="11.7" text-anchor="middle" font-weight="normal" fill="#111" stroke="#111" stroke-width="0.4" >20</text>
<text x="69.80000000000001" y="396.5" font-size="11.7" text-anchor="middle" font-weight="normal" fill="#111" stroke="#111" stroke-width="0.4" >4</text>
<text x="86.60000000000001" y="396.5" font-size="11.7" text-anchor="middle" font-weight="normal" fill="#111" stroke="#111" stroke-width="0.4" >8</text>
<text x="103.30000000000001" y="396.5" font-size="11.7" text-anchor="middle" font-weight="normal" fill="#111" stroke="#111" stroke-width="0.4" >P3</text>
<line x1="46.1" y1="400.9" x2="111" y2="400.9" stroke="#111" stroke-width="2.0"/>
<text x="79.6" y="415.2" font-size="11.5" text-anchor="middle" font-weight="normal" fill="#111" stroke="#111" stroke-width="0.4" textLength="58.4" lengthAdjust="spacingAndGlyphs" >ER/PR neg</text>
<text x="143.4" y="396.5" font-size="11.7" text-anchor="middle" font-weight="normal" fill="#111" stroke="#111" stroke-width="0.4" >20</text>
<text x="160.1" y="396.5" font-size="11.7" text-anchor="middle" font-weight="normal" fill="#111" stroke="#111" stroke-width="0.4" >4</text>
<text x="176.6" y="396.5" font-size="11.7" text-anchor="middle" font-weight="normal" fill="#111" stroke="#111" stroke-width="0.4" >8</text>
<text x="193.4" y="396.5" font-size="11.7" text-anchor="middle" font-weight="normal" fill="#111" stroke="#111" stroke-width="0.4" >P3</text>
<line x1="137.3" y1="400.9" x2="201.8" y2="400.9" stroke="#111" stroke-width="2.0"/>
<text x="171.3" y="415.2" font-size="11.5" text-anchor="middle" font-weight="normal" fill="#111" stroke="#111" stroke-width="0.4" textLength="58.8" lengthAdjust="spacingAndGlyphs" >ER/PR pos</text>
<line x1="263.9" y1="236" x2="263.9" y2="379.5" stroke="#111" stroke-width="1.5"/>
<line x1="263.2" y1="378.8" x2="432.7" y2="378.8" stroke="#111" stroke-width="1.4"/>
<text x="259.29999999999995" y="247.6" font-size="11.2" text-anchor="end" font-weight="normal" fill="#111" stroke="#111" stroke-width="0.35" >0.4</text>
<line x1="260.7" y1="243.2" x2="263.9" y2="243.2" stroke="#111" stroke-width="1.0"/>
<text x="259.29999999999995" y="279.79999999999995" font-size="11.2" text-anchor="end" font-weight="normal" fill="#111" stroke="#111" stroke-width="0.35" >0.3</text>
<line x1="260.7" y1="275.4" x2="263.9" y2="275.4" stroke="#111" stroke-width="1.0"/>
<text x="259.29999999999995" y="311.59999999999997" font-size="11.2" text-anchor="end" font-weight="normal" fill="#111" stroke="#111" stroke-width="0.35" >0.2</text>
<line x1="260.7" y1="307.2" x2="263.9" y2="307.2" stroke="#111" stroke-width="1.0"/>
<text x="259.29999999999995" y="343.79999999999995" font-size="11.2" text-anchor="end" font-weight="normal" fill="#111" stroke="#111" stroke-width="0.35" >0.1</text>
<line x1="260.7" y1="339.4" x2="263.9" y2="339.4" stroke="#111" stroke-width="1.0"/>
<text x="254.89999999999995" y="377.0" font-size="11.2" text-anchor="end" font-weight="normal" fill="#111" stroke="#111" stroke-width="0.35" >0</text>
<line x1="260.7" y1="371.6" x2="263.9" y2="371.6" stroke="#111" stroke-width="1.0"/>
<text transform="translate(237.0,312.3) rotate(-90)" font-size="11.5" text-anchor="middle" fill="#111" stroke="#111" stroke-width="0.3" textLength="167" lengthAdjust="spacingAndGlyphs">tumour nest TIL:cancer cell ratio</text>
<line x1="279" y1="339.9" x2="279" y2="351.6" stroke="#111" stroke-width="1.3"/>
<line x1="279" y1="370.2" x2="279" y2="371.9" stroke="#111" stroke-width="1.3"/>
<line x1="277.5" y1="339.9" x2="280.5" y2="339.9" stroke="#111" stroke-width="1.2"/>
<line x1="277.5" y1="371.9" x2="280.5" y2="371.9" stroke="#111" stroke-width="1.2"/>
<rect x="276.75" y="351.90" width="4.50" height="18.00" fill="#fff" stroke="#111" stroke-width="1.45"/>
<line x1="276.75" y1="366.6" x2="281.25" y2="366.6" stroke="#111" stroke-width="1.3"/>
<circle cx="279" cy="275.2" r="1.15" fill="none" stroke="#222" stroke-width="0.85" opacity="1"/>
<line x1="295.5" y1="248.4" x2="295.5" y2="317.4" stroke="#111" stroke-width="1.3"/>
<line x1="295.5" y1="366.1" x2="295.5" y2="371.4" stroke="#111" stroke-width="1.3"/>
<line x1="294.0" y1="248.4" x2="297.0" y2="248.4" stroke="#111" stroke-width="1.2"/>
<line x1="294.0" y1="371.4" x2="297.0" y2="371.4" stroke="#111" stroke-width="1.2"/>
<rect x="293.25" y="317.70" width="4.50" height="48.10" fill="#fff" stroke="#111" stroke-width="1.45"/>
<line x1="293.25" y1="351.6" x2="297.75" y2="351.6" stroke="#111" stroke-width="1.3"/>
<line x1="313.3" y1="280.4" x2="313.3" y2="318.4" stroke="#111" stroke-width="1.3"/>
<line x1="313.3" y1="367.3" x2="313.3" y2="371.4" stroke="#111" stroke-width="1.3"/>
<line x1="311.8" y1="280.4" x2="314.8" y2="280.4" stroke="#111" stroke-width="1.2"/>
<line x1="311.8" y1="371.4" x2="314.8" y2="371.4" stroke="#111" stroke-width="1.2"/>
<rect x="311.05" y="318.70" width="4.50" height="48.30" fill="#fff" stroke="#111" stroke-width="1.45"/>
<line x1="311.05" y1="346.3" x2="315.55" y2="346.3" stroke="#111" stroke-width="1.3"/>
<line x1="330" y1="317.4" x2="330" y2="343.2" stroke="#111" stroke-width="1.3"/>
<line x1="330" y1="371.4" x2="330" y2="371.6" stroke="#111" stroke-width="1.3"/>
<line x1="328.5" y1="317.4" x2="331.5" y2="317.4" stroke="#111" stroke-width="1.2"/>
<line x1="328.5" y1="371.6" x2="331.5" y2="371.6" stroke="#111" stroke-width="1.2"/>
<rect x="327.75" y="343.50" width="4.50" height="27.60" fill="#fff" stroke="#111" stroke-width="1.45"/>
<line x1="327.75" y1="366.6" x2="332.25" y2="366.6" stroke="#111" stroke-width="1.3"/>
<line x1="368.4" y1="359" x2="368.4" y2="366.1" stroke="#111" stroke-width="1.3"/>
<line x1="368.4" y1="371.4" x2="368.4" y2="371.6" stroke="#111" stroke-width="1.3"/>
<line x1="366.9" y1="359" x2="369.9" y2="359" stroke="#111" stroke-width="1.2"/>
<line x1="366.9" y1="371.6" x2="369.9" y2="371.6" stroke="#111" stroke-width="1.2"/>
<rect x="366.15" y="366.40" width="4.50" height="4.70" fill="#fff" stroke="#111" stroke-width="1.45"/>
<line x1="366.15" y1="369.5" x2="370.65" y2="369.5" stroke="#111" stroke-width="1.3"/>
<circle cx="368.4" cy="295.6" r="1.15" fill="none" stroke="#222" stroke-width="0.85" opacity="1"/>
<circle cx="368.4" cy="303.2" r="1.15" fill="none" stroke="#222" stroke-width="0.85" opacity="1"/>
<circle cx="368.4" cy="324.1" r="1.15" fill="none" stroke="#222" stroke-width="0.85" opacity="1"/>
<circle cx="368.4" cy="343.9" r="1.15" fill="none" stroke="#222" stroke-width="0.85" opacity="1"/>
<circle cx="368.4" cy="353.5" r="1.15" fill="none" stroke="#222" stroke-width="0.85" opacity="1"/>
<circle cx="368.4" cy="359" r="1.15" fill="none" stroke="#222" stroke-width="0.85" opacity="1"/>
<line x1="387.2" y1="340.3" x2="387.2" y2="352.3" stroke="#111" stroke-width="1.3"/>
<line x1="387.2" y1="369" x2="387.2" y2="371.9" stroke="#111" stroke-width="1.3"/>
<line x1="385.7" y1="340.3" x2="388.7" y2="340.3" stroke="#111" stroke-width="1.2"/>
<line x1="385.7" y1="371.9" x2="388.7" y2="371.9" stroke="#111" stroke-width="1.2"/>
<rect x="384.95" y="352.60" width="4.50" height="16.10" fill="#fff" stroke="#111" stroke-width="1.45"/>
<line x1="384.95" y1="363" x2="389.45" y2="363" stroke="#111" stroke-width="1.3"/>
<circle cx="387.2" cy="274.2" r="1.15" fill="none" stroke="#222" stroke-width="0.85" opacity="1"/>
<circle cx="387.2" cy="319.6" r="1.15" fill="none" stroke="#222" stroke-width="0.85" opacity="1"/>
<line x1="403.3" y1="331.3" x2="403.3" y2="348.5" stroke="#111" stroke-width="1.3"/>
<line x1="403.3" y1="367.6" x2="403.3" y2="371.4" stroke="#111" stroke-width="1.3"/>
<line x1="401.8" y1="331.3" x2="404.8" y2="331.3" stroke="#111" stroke-width="1.2"/>
<line x1="401.8" y1="371.4" x2="404.8" y2="371.4" stroke="#111" stroke-width="1.2"/>
<rect x="401.05" y="348.80" width="4.50" height="18.50" fill="#fff" stroke="#111" stroke-width="1.45"/>
<line x1="401.05" y1="359.4" x2="405.55" y2="359.4" stroke="#111" stroke-width="1.3"/>
<circle cx="403.3" cy="252" r="1.15" fill="none" stroke="#222" stroke-width="0.85" opacity="1"/>
<circle cx="403.3" cy="309.3" r="1.15" fill="none" stroke="#222" stroke-width="0.85" opacity="1"/>
<line x1="422.1" y1="357.5" x2="422.1" y2="365.4" stroke="#111" stroke-width="1.3"/>
<line x1="422.1" y1="370.9" x2="422.1" y2="372.6" stroke="#111" stroke-width="1.3"/>
<line x1="420.6" y1="357.5" x2="423.6" y2="357.5" stroke="#111" stroke-width="1.2"/>
<line x1="420.6" y1="372.6" x2="423.6" y2="372.6" stroke="#111" stroke-width="1.2"/>
<rect x="419.85" y="365.70" width="4.50" height="4.90" fill="#fff" stroke="#111" stroke-width="1.45"/>
<line x1="419.85" y1="368.5" x2="424.35" y2="368.5" stroke="#111" stroke-width="1.3"/>
<circle cx="422.1" cy="327.9" r="1.15" fill="none" stroke="#222" stroke-width="0.85" opacity="1"/>
<circle cx="422.1" cy="350.4" r="1.15" fill="none" stroke="#222" stroke-width="0.85" opacity="1"/>
<circle cx="422.1" cy="357" r="1.15" fill="none" stroke="#222" stroke-width="0.85" opacity="1"/>
<text x="280.5" y="396.5" font-size="11.7" text-anchor="middle" font-weight="normal" fill="#111" stroke="#111" stroke-width="0.4" >20</text>
<text x="297.0" y="396.5" font-size="11.7" text-anchor="middle" font-weight="normal" fill="#111" stroke="#111" stroke-width="0.4" >4</text>
<text x="313.29999999999995" y="396.5" font-size="11.7" text-anchor="middle" font-weight="normal" fill="#111" stroke="#111" stroke-width="0.4" >8</text>
<text x="330.5" y="396.5" font-size="11.7" text-anchor="middle" font-weight="normal" fill="#111" stroke="#111" stroke-width="0.4" >P3</text>
<line x1="273.2" y1="400.9" x2="338.1" y2="400.9" stroke="#111" stroke-width="2.0"/>
<text x="306.8" y="415.2" font-size="11.5" text-anchor="middle" font-weight="normal" fill="#111" stroke="#111" stroke-width="0.4" textLength="58.8" lengthAdjust="spacingAndGlyphs" >ER/PR neg</text>
<text x="370.5" y="396.5" font-size="11.7" text-anchor="middle" font-weight="normal" fill="#111" stroke="#111" stroke-width="0.4" >20</text>
<text x="387.0" y="396.5" font-size="11.7" text-anchor="middle" font-weight="normal" fill="#111" stroke="#111" stroke-width="0.4" >4</text>
<text x="403.4" y="396.5" font-size="11.7" text-anchor="middle" font-weight="normal" fill="#111" stroke="#111" stroke-width="0.4" >8</text>
<text x="420.4" y="396.5" font-size="11.7" text-anchor="middle" font-weight="normal" fill="#111" stroke="#111" stroke-width="0.4" >P3</text>
<line x1="364.5" y1="400.9" x2="429.1" y2="400.9" stroke="#111" stroke-width="2.0"/>
<text x="397.9" y="415.2" font-size="11.5" text-anchor="middle" font-weight="normal" fill="#111" stroke="#111" stroke-width="0.4" textLength="58.6" lengthAdjust="spacingAndGlyphs" >ER/PR pos</text>
<rect x="492.3" y="266.0" width="7.40" height="111.70" fill="#707070"/>
<rect x="492.3" y="266.0" width="7.40" height="79.70" fill="#2b2b2b"/>
<rect x="492.3" y="266.0" width="7.40" height="28.00" fill="#060606"/>
<rect x="509.8" y="266.0" width="7.60" height="111.70" fill="#707070"/>
<rect x="509.8" y="266.0" width="7.60" height="83.50" fill="#2b2b2b"/>
<rect x="509.8" y="266.0" width="7.60" height="46.80" fill="#060606"/>
<rect x="525.8" y="266.0" width="7.60" height="111.70" fill="#707070"/>
<rect x="525.8" y="266.0" width="7.60" height="94.30" fill="#2b2b2b"/>
<rect x="525.8" y="266.0" width="7.60" height="40.40" fill="#060606"/>
<rect x="541.7" y="266.0" width="7.20" height="111.70" fill="#707070"/>
<rect x="541.7" y="266.0" width="7.20" height="20.80" fill="#2b2b2b"/>
<rect x="541.7" y="266.0" width="7.20" height="0.30" fill="#060606"/>
<rect x="582.1" y="266.0" width="7.80" height="111.70" fill="#707070"/>
<rect x="582.1" y="266.0" width="7.80" height="86.90" fill="#2b2b2b"/>
<rect x="582.1" y="266.0" width="7.80" height="62.40" fill="#060606"/>
<rect x="599.5" y="266.0" width="8.10" height="111.70" fill="#2b2b2b"/>
<rect x="599.5" y="266.0" width="8.10" height="86.40" fill="#060606"/>
<rect x="615.9" y="266.0" width="7.90" height="111.70" fill="#707070"/>
<rect x="615.9" y="266.0" width="7.90" height="84.00" fill="#2b2b2b"/>
<rect x="615.9" y="266.0" width="7.90" height="55.60" fill="#060606"/>
<rect x="632.2" y="266.0" width="7.90" height="111.70" fill="#707070"/>
<rect x="632.2" y="266.0" width="7.90" height="48.00" fill="#2b2b2b"/>
<rect x="632.2" y="266.0" width="7.90" height="14.60" fill="#060606"/>
<line x1="484.3" y1="243.1" x2="484.3" y2="378.4" stroke="#111" stroke-width="1.5"/>
<line x1="483.6" y1="377.7" x2="643.6" y2="377.7" stroke="#111" stroke-width="1.5"/>
<text x="472.9" y="268.6" font-size="10.5" text-anchor="middle" fill="#111" stroke="#111" stroke-width="0.4">100</text>
<text x="472.9" y="290.8" font-size="10.5" text-anchor="middle" fill="#111" stroke="#111" stroke-width="0.4">80</text>
<text x="472.9" y="313.5" font-size="10.5" text-anchor="middle" fill="#111" stroke="#111" stroke-width="0.4">60</text>
<text x="472.9" y="336.6" font-size="10.5" text-anchor="middle" fill="#111" stroke="#111" stroke-width="0.4">40</text>
<text x="472.9" y="358.8" font-size="10.5" text-anchor="middle" fill="#111" stroke="#111" stroke-width="0.4">20</text>
<text x="472.9" y="382.40000000000003" font-size="10.5" text-anchor="middle" fill="#111" stroke="#111" stroke-width="0.4">0</text>
<text transform="translate(459.4,311.8) rotate(-90)" font-size="11.5" text-anchor="middle" fill="#111" stroke="#111" stroke-width="0.3" textLength="112" lengthAdjust="spacingAndGlyphs">edge TILs (% of cohort)</text>
<line x1="521.7" y1="254.4" x2="611.9" y2="254.4" stroke="#111" stroke-width="1.3"/>
<line x1="521.7" y1="252.20000000000002" x2="521.7" y2="256.6" stroke="#111" stroke-width="1.2"/>
<line x1="611.9" y1="252.20000000000002" x2="611.9" y2="256.6" stroke="#111" stroke-width="1.2"/>
<polygon points="563.30,248.65 563.92,250.35 565.73,250.41 564.30,251.52 564.80,253.26 563.30,252.25 561.80,253.26 562.30,251.52 560.87,250.41 562.68,250.35" fill="#111" stroke="#111" stroke-width="0.3"/>
<text x="496.4" y="396.5" font-size="11.7" text-anchor="middle" font-weight="normal" fill="#111" stroke="#111" stroke-width="0.4" >20</text>
<text x="512.9" y="396.5" font-size="11.7" text-anchor="middle" font-weight="normal" fill="#111" stroke="#111" stroke-width="0.4" >4</text>
<text x="529.6" y="396.5" font-size="11.7" text-anchor="middle" font-weight="normal" fill="#111" stroke="#111" stroke-width="0.4" >8</text>
<text x="546.1999999999999" y="396.5" font-size="11.7" text-anchor="middle" font-weight="normal" fill="#111" stroke="#111" stroke-width="0.4" >P3</text>
<line x1="489.5" y1="401.0" x2="553.7" y2="401.0" stroke="#111" stroke-width="2.0"/>
<text x="522.7" y="415.1" font-size="11.5" text-anchor="middle" font-weight="normal" fill="#111" stroke="#111" stroke-width="0.4" textLength="59.2" lengthAdjust="spacingAndGlyphs" >ER/PR neg</text>
<text x="586.5" y="396.5" font-size="11.7" text-anchor="middle" font-weight="normal" fill="#111" stroke="#111" stroke-width="0.4" >20</text>
<text x="602.9" y="396.5" font-size="11.7" text-anchor="middle" font-weight="normal" fill="#111" stroke="#111" stroke-width="0.4" >4</text>
<text x="619.3" y="396.5" font-size="11.7" text-anchor="middle" font-weight="normal" fill="#111" stroke="#111" stroke-width="0.4" >8</text>
<text x="636.5" y="396.5" font-size="11.7" text-anchor="middle" font-weight="normal" fill="#111" stroke="#111" stroke-width="0.4" >P3</text>
<line x1="580.2" y1="401.0" x2="644.8" y2="401.0" stroke="#111" stroke-width="2.0"/>
<text x="614.0" y="415.1" font-size="11.5" text-anchor="middle" font-weight="normal" fill="#111" stroke="#111" stroke-width="0.4" textLength="58.6" lengthAdjust="spacingAndGlyphs" >ER/PR pos</text>
<text x="647.7" y="277.4" font-size="8.4" text-anchor="start" font-weight="normal" fill="#111" stroke="#111" stroke-width="0.45" textLength="21.8" lengthAdjust="spacingAndGlyphs" >heavy</text>
<text x="641.7" y="297.2" font-size="8.4" text-anchor="start" font-weight="normal" fill="#111" stroke="#111" stroke-width="0.45" textLength="34.8" lengthAdjust="spacingAndGlyphs" >moderate</text>
<text x="651.7" y="342.6" font-size="8.4" text-anchor="start" font-weight="normal" fill="#111" stroke="#111" stroke-width="0.45" textLength="15.0" lengthAdjust="spacingAndGlyphs" >mild</text>
</g></svg></body></html>
